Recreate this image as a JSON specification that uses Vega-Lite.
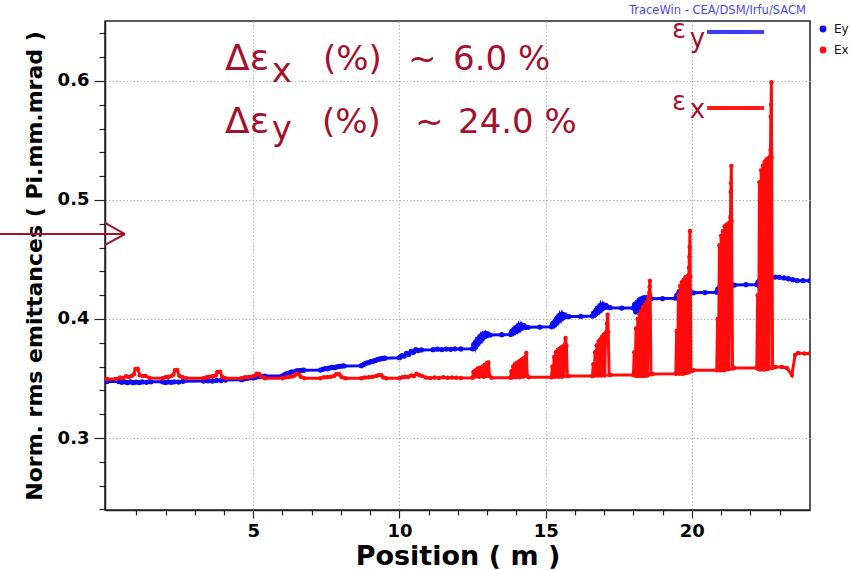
{
  "$schema": "https://vega.github.io/schema/vega-lite/v6.json",
  "width": 705,
  "height": 489,
  "autosize": {"type": "none"},
  "padding": {"left": 105, "top": 21, "right": 43, "bottom": 60},
  "background": "white",
  "config": {
    "view": {"stroke": "#222", "strokeWidth": 1.5},
    "axis": {
      "labelFont": "DejaVu Sans", "labelFontWeight": "bold", "labelColor": "#000",
      "titleFont": "DejaVu Sans", "titleFontWeight": "bold", "titleColor": "#000",
      "domainColor": "#222", "domainWidth": 1.5, "tickColor": "#222", "tickWidth": 1.2,
      "gridColor": "#b5b5b5", "gridDash": [1.5, 2], "gridWidth": 1,
      "labelOverlap": false, "labelBound": false, "labelFlush": false
    }
  },
  "datasets": {
    "ey": [
      {"x":0,"y":0.3475},{"x":0.4,"y":0.3475},{"x":0.5,"y":0.3468},{"x":0.6,"y":0.3472},{"x":0.7,"y":0.3466},{"x":0.8,"y":0.3471},{"x":0.9,"y":0.3465},{"x":1.0,"y":0.347},{"x":1.1,"y":0.3466},{"x":1.2,"y":0.3471},{"x":1.35,"y":0.3468},{"x":1.5,"y":0.3472},
      {"x":1.9,"y":0.3472},{"x":2.0,"y":0.3467},{"x":2.1,"y":0.3471},{"x":2.2,"y":0.3468},{"x":2.3,"y":0.3472},{"x":2.45,"y":0.347},{"x":2.6,"y":0.3476},
      {"x":3.3,"y":0.3478},{"x":3.45,"y":0.3481},{"x":3.6,"y":0.3479},{"x":3.75,"y":0.3484},{"x":3.9,"y":0.3483},{"x":4.05,"y":0.3487},
      {"x":4.6,"y":0.349},{"x":4.7,"y":0.3497},{"x":4.8,"y":0.3502},{"x":4.9,"y":0.3506},{"x":5.0,"y":0.3505},{"x":5.1,"y":0.3512},{"x":5.2,"y":0.3515},{"x":5.3,"y":0.3518},{"x":5.4,"y":0.352},
      {"x":6.0,"y":0.3522},{"x":6.08,"y":0.3532},{"x":6.16,"y":0.3542},{"x":6.24,"y":0.3548},{"x":6.32,"y":0.3556},{"x":6.4,"y":0.3554},{"x":6.48,"y":0.3563},{"x":6.56,"y":0.3566},{"x":6.64,"y":0.3569},{"x":6.72,"y":0.357},
      {"x":7.3,"y":0.3571},{"x":7.38,"y":0.3577},{"x":7.46,"y":0.3583},{"x":7.54,"y":0.3582},{"x":7.62,"y":0.3589},{"x":7.7,"y":0.3593},{"x":7.78,"y":0.3591},{"x":7.86,"y":0.3598},{"x":7.94,"y":0.3602},{"x":8.02,"y":0.3604},{"x":8.1,"y":0.3606},
      {"x":8.7,"y":0.3608},{"x":8.78,"y":0.3618},{"x":8.86,"y":0.3628},{"x":8.94,"y":0.3633},{"x":9.02,"y":0.3642},{"x":9.1,"y":0.3645},{"x":9.18,"y":0.3652},{"x":9.26,"y":0.366},{"x":9.34,"y":0.3664},{"x":9.42,"y":0.3668},{"x":9.5,"y":0.367},
      {"x":10.0,"y":0.3675},{"x":10.08,"y":0.3692},{"x":10.16,"y":0.3688},{"x":10.24,"y":0.371},{"x":10.32,"y":0.3702},{"x":10.4,"y":0.3728},{"x":10.48,"y":0.372},{"x":10.56,"y":0.3742},{"x":10.64,"y":0.3735},{"x":10.75,"y":0.374},
      {"x":11.15,"y":0.3742},{"x":11.3,"y":0.3746},{"x":11.45,"y":0.3743},{"x":11.6,"y":0.3747},{"x":11.75,"y":0.3745},{"x":11.9,"y":0.3749},{"x":12.1,"y":0.3748},{"x":12.5,"y":0.375},
      {"x":12.54,"y":0.3785},{"x":12.58,"y":0.376},{"x":12.62,"y":0.381},{"x":12.66,"y":0.3785},{"x":12.7,"y":0.3835},{"x":12.74,"y":0.381},{"x":12.78,"y":0.3855},{"x":12.82,"y":0.383},{"x":12.86,"y":0.387},{"x":12.9,"y":0.385},{"x":12.94,"y":0.388},{"x":12.98,"y":0.386},{"x":13.02,"y":0.3875},{"x":13.1,"y":0.3865},{"x":13.5,"y":0.3868},{"x":13.8,"y":0.387},
      {"x":13.84,"y":0.3895},{"x":13.88,"y":0.388},{"x":13.92,"y":0.3915},{"x":13.96,"y":0.3895},{"x":14.0,"y":0.393},{"x":14.04,"y":0.3905},{"x":14.08,"y":0.3945},{"x":14.12,"y":0.3915},{"x":14.16,"y":0.395},{"x":14.2,"y":0.3925},{"x":14.26,"y":0.3945},{"x":14.32,"y":0.393},{"x":14.4,"y":0.393},{"x":14.8,"y":0.3932},{"x":15.2,"y":0.3935},
      {"x":15.24,"y":0.396},{"x":15.28,"y":0.3945},{"x":15.32,"y":0.3985},{"x":15.36,"y":0.3965},{"x":15.4,"y":0.401},{"x":15.44,"y":0.3985},{"x":15.48,"y":0.403},{"x":15.52,"y":0.4},{"x":15.56,"y":0.404},{"x":15.6,"y":0.401},{"x":15.66,"y":0.4035},{"x":15.72,"y":0.402},{"x":15.8,"y":0.402},{"x":16.2,"y":0.4022},{"x":16.6,"y":0.4025},
      {"x":16.64,"y":0.405},{"x":16.68,"y":0.4035},{"x":16.72,"y":0.4075},{"x":16.76,"y":0.4055},{"x":16.8,"y":0.4095},{"x":16.84,"y":0.407},{"x":16.88,"y":0.4115},{"x":16.92,"y":0.4085},{"x":16.96,"y":0.412},{"x":17.0,"y":0.4095},{"x":17.06,"y":0.4115},{"x":17.12,"y":0.41},{"x":17.2,"y":0.4095},{"x":17.6,"y":0.4092},{"x":18.0,"y":0.4092},
      {"x":18.04,"y":0.412},{"x":18.08,"y":0.406},{"x":18.12,"y":0.414},{"x":18.16,"y":0.407},{"x":18.2,"y":0.416},{"x":18.24,"y":0.409},{"x":18.28,"y":0.417},{"x":18.32,"y":0.411},{"x":18.36,"y":0.418},{"x":18.4,"y":0.414},{"x":18.46,"y":0.418},{"x":18.52,"y":0.4165},{"x":18.6,"y":0.417},{"x":19.0,"y":0.4172},{"x":19.45,"y":0.4175},
      {"x":19.49,"y":0.42},{"x":19.53,"y":0.418},{"x":19.57,"y":0.423},{"x":19.61,"y":0.419},{"x":19.65,"y":0.425},{"x":19.69,"y":0.42},{"x":19.73,"y":0.4255},{"x":19.77,"y":0.4205},{"x":19.81,"y":0.425},{"x":19.85,"y":0.421},{"x":19.91,"y":0.424},{"x":19.97,"y":0.422},{"x":20.05,"y":0.422},{"x":20.45,"y":0.4222},{"x":20.85,"y":0.4225},
      {"x":20.89,"y":0.425},{"x":20.93,"y":0.4225},{"x":20.97,"y":0.428},{"x":21.01,"y":0.4235},{"x":21.05,"y":0.43},{"x":21.09,"y":0.425},{"x":21.13,"y":0.431},{"x":21.17,"y":0.4265},{"x":21.21,"y":0.4305},{"x":21.25,"y":0.4275},{"x":21.31,"y":0.4295},{"x":21.38,"y":0.4285},{"x":21.45,"y":0.4285},{"x":21.85,"y":0.4288},{"x":22.22,"y":0.429},
      {"x":22.26,"y":0.431},{"x":22.3,"y":0.428},{"x":22.34,"y":0.4335},{"x":22.38,"y":0.429},{"x":22.42,"y":0.436},{"x":22.46,"y":0.4305},{"x":22.5,"y":0.4375},{"x":22.54,"y":0.432},{"x":22.58,"y":0.438},{"x":22.62,"y":0.4335},{"x":22.68,"y":0.4365},{"x":22.74,"y":0.435},{"x":22.85,"y":0.4352},
      {"x":23.0,"y":0.435},{"x":23.15,"y":0.4345},{"x":23.3,"y":0.4338},{"x":23.45,"y":0.433},{"x":23.6,"y":0.4322},{"x":23.8,"y":0.4322},{"x":24.04,"y":0.4322}
    ],
    "ex": [
      {"x":0,"y":0.3495},{"x":0.3,"y":0.3495},{"x":0.45,"y":0.3508},{"x":0.55,"y":0.3504},{"x":0.65,"y":0.3518},{"x":0.75,"y":0.3512},{"x":0.85,"y":0.3524},{"x":0.92,"y":0.3535},{"x":0.97,"y":0.358},{"x":1.05,"y":0.3582},{"x":1.12,"y":0.3528},{"x":1.22,"y":0.352},{"x":1.32,"y":0.3522},{"x":1.45,"y":0.3505},
      {"x":1.9,"y":0.3503},{"x":2.0,"y":0.351},{"x":2.1,"y":0.3514},{"x":2.2,"y":0.352},{"x":2.27,"y":0.3532},{"x":2.32,"y":0.357},{"x":2.4,"y":0.3572},{"x":2.47,"y":0.3522},{"x":2.57,"y":0.3512},{"x":2.7,"y":0.3503},
      {"x":3.3,"y":0.3502},{"x":3.4,"y":0.351},{"x":3.5,"y":0.3514},{"x":3.62,"y":0.3518},{"x":3.72,"y":0.3525},{"x":3.77,"y":0.3555},{"x":3.87,"y":0.3556},{"x":3.94,"y":0.3513},{"x":4.05,"y":0.3503},
      {"x":4.6,"y":0.3503},{"x":4.72,"y":0.351},{"x":4.85,"y":0.3512},{"x":4.97,"y":0.3516},{"x":5.07,"y":0.3525},{"x":5.12,"y":0.354},{"x":5.2,"y":0.3537},{"x":5.28,"y":0.3515},{"x":5.4,"y":0.3503},
      {"x":6.0,"y":0.3503},{"x":6.1,"y":0.351},{"x":6.22,"y":0.3512},{"x":6.34,"y":0.3516},{"x":6.42,"y":0.3525},{"x":6.47,"y":0.354},{"x":6.55,"y":0.3541},{"x":6.62,"y":0.3515},{"x":6.75,"y":0.3503},
      {"x":7.3,"y":0.3503},{"x":7.42,"y":0.351},{"x":7.54,"y":0.3512},{"x":7.66,"y":0.3515},{"x":7.77,"y":0.3522},{"x":7.84,"y":0.3535},{"x":7.94,"y":0.3535},{"x":8.02,"y":0.3512},{"x":8.15,"y":0.3503},
      {"x":8.7,"y":0.3503},{"x":8.82,"y":0.3509},{"x":8.95,"y":0.3511},{"x":9.08,"y":0.3514},{"x":9.2,"y":0.352},{"x":9.28,"y":0.353},{"x":9.38,"y":0.3528},{"x":9.45,"y":0.3508},{"x":9.55,"y":0.3503},
      {"x":10.0,"y":0.3503},{"x":10.1,"y":0.351},{"x":10.2,"y":0.3515},{"x":10.3,"y":0.3512},{"x":10.4,"y":0.3525},{"x":10.5,"y":0.352},{"x":10.58,"y":0.354},{"x":10.68,"y":0.3528},{"x":10.78,"y":0.352},{"x":10.9,"y":0.3508},{"x":11.05,"y":0.3504},
      {"x":11.2,"y":0.3508},{"x":11.35,"y":0.3505},{"x":11.5,"y":0.351},{"x":11.65,"y":0.3506},{"x":11.8,"y":0.3509},{"x":11.95,"y":0.3506},{"x":12.1,"y":0.3505},{"x":12.5,"y":0.3506},
      {"x":12.53,"y":0.3555},{"x":12.56,"y":0.3515},{"x":12.6,"y":0.357},{"x":12.64,"y":0.352},{"x":12.68,"y":0.3585},{"x":12.72,"y":0.3515},{"x":12.76,"y":0.359},{"x":12.8,"y":0.352},{"x":12.84,"y":0.36},{"x":12.88,"y":0.3515},{"x":12.92,"y":0.3615},{"x":12.96,"y":0.352},{"x":13.0,"y":0.363},{"x":13.04,"y":0.3635},{"x":13.08,"y":0.352},{"x":13.15,"y":0.3506},
      {"x":13.8,"y":0.3506},{"x":13.83,"y":0.356},{"x":13.86,"y":0.351},{"x":13.89,"y":0.36},{"x":13.92,"y":0.3515},{"x":13.95,"y":0.362},{"x":13.98,"y":0.351},{"x":14.01,"y":0.363},{"x":14.04,"y":0.352},{"x":14.07,"y":0.364},{"x":14.1,"y":0.351},{"x":14.13,"y":0.365},{"x":14.16,"y":0.352},{"x":14.19,"y":0.366},{"x":14.22,"y":0.3515},{"x":14.25,"y":0.367},{"x":14.28,"y":0.352},{"x":14.31,"y":0.368},{"x":14.34,"y":0.3715},{"x":14.37,"y":0.352},{"x":14.42,"y":0.351},
      {"x":15.2,"y":0.351},{"x":15.23,"y":0.36},{"x":15.26,"y":0.352},{"x":15.29,"y":0.368},{"x":15.32,"y":0.3515},{"x":15.35,"y":0.372},{"x":15.38,"y":0.352},{"x":15.41,"y":0.374},{"x":15.44,"y":0.3515},{"x":15.47,"y":0.375},{"x":15.5,"y":0.352},{"x":15.53,"y":0.376},{"x":15.56,"y":0.3515},{"x":15.59,"y":0.377},{"x":15.62,"y":0.352},{"x":15.65,"y":0.378},{"x":15.68,"y":0.384},{"x":15.71,"y":0.3775},{"x":15.74,"y":0.352},{"x":15.8,"y":0.352},
      {"x":16.6,"y":0.352},{"x":16.63,"y":0.362},{"x":16.66,"y":0.3525},{"x":16.69,"y":0.372},{"x":16.72,"y":0.353},{"x":16.75,"y":0.378},{"x":16.78,"y":0.3525},{"x":16.81,"y":0.381},{"x":16.84,"y":0.353},{"x":16.87,"y":0.383},{"x":16.9,"y":0.3525},{"x":16.93,"y":0.385},{"x":16.96,"y":0.353},{"x":16.99,"y":0.387},{"x":17.02,"y":0.3525},{"x":17.05,"y":0.388},{"x":17.08,"y":0.389},{"x":17.1,"y":0.396},{"x":17.12,"y":0.4035},{"x":17.14,"y":0.389},{"x":17.17,"y":0.353},{"x":17.22,"y":0.353},
      {"x":18.0,"y":0.353},{"x":18.03,"y":0.372},{"x":18.06,"y":0.3525},{"x":18.09,"y":0.392},{"x":18.12,"y":0.352},{"x":18.15,"y":0.4},{"x":18.18,"y":0.3525},{"x":18.21,"y":0.404},{"x":18.24,"y":0.352},{"x":18.27,"y":0.407},{"x":18.3,"y":0.3525},{"x":18.33,"y":0.41},{"x":18.36,"y":0.352},{"x":18.39,"y":0.412},{"x":18.42,"y":0.3525},{"x":18.45,"y":0.414},{"x":18.48,"y":0.3525},{"x":18.51,"y":0.417},{"x":18.535,"y":0.4185},{"x":18.545,"y":0.422},{"x":18.555,"y":0.427},{"x":18.565,"y":0.432},{"x":18.575,"y":0.42},{"x":18.6,"y":0.3535},{"x":18.65,"y":0.3538},
      {"x":19.45,"y":0.354},{"x":19.48,"y":0.39},{"x":19.51,"y":0.3545},{"x":19.54,"y":0.42},{"x":19.57,"y":0.354},{"x":19.6,"y":0.428},{"x":19.63,"y":0.3545},{"x":19.66,"y":0.431},{"x":19.69,"y":0.354},{"x":19.72,"y":0.433},{"x":19.75,"y":0.3545},{"x":19.78,"y":0.435},{"x":19.81,"y":0.355},{"x":19.84,"y":0.436},{"x":19.87,"y":0.355},{"x":19.895,"y":0.437},{"x":19.905,"y":0.443},{"x":19.915,"y":0.452},{"x":19.925,"y":0.4605},{"x":19.935,"y":0.474},{"x":19.945,"y":0.436},{"x":19.97,"y":0.356},{"x":20.0,"y":0.3565},{"x":20.05,"y":0.357},
      {"x":20.85,"y":0.357},{"x":20.88,"y":0.4},{"x":20.91,"y":0.3575},{"x":20.94,"y":0.462},{"x":20.97,"y":0.357},{"x":21.0,"y":0.47},{"x":21.03,"y":0.3575},{"x":21.06,"y":0.474},{"x":21.09,"y":0.357},{"x":21.12,"y":0.478},{"x":21.15,"y":0.3575},{"x":21.18,"y":0.479},{"x":21.21,"y":0.358},{"x":21.24,"y":0.48},{"x":21.27,"y":0.358},{"x":21.3,"y":0.481},{"x":21.32,"y":0.4857},{"x":21.33,"y":0.5067},{"x":21.34,"y":0.514},{"x":21.35,"y":0.5285},{"x":21.36,"y":0.482},{"x":21.39,"y":0.3585},{"x":21.42,"y":0.3588},{"x":21.45,"y":0.3588},
      {"x":22.22,"y":0.3588},{"x":22.25,"y":0.42},{"x":22.28,"y":0.358},{"x":22.31,"y":0.515},{"x":22.34,"y":0.3575},{"x":22.37,"y":0.525},{"x":22.4,"y":0.358},{"x":22.43,"y":0.529},{"x":22.46,"y":0.3575},{"x":22.49,"y":0.532},{"x":22.52,"y":0.358},{"x":22.55,"y":0.534},{"x":22.58,"y":0.358},{"x":22.61,"y":0.535},{"x":22.64,"y":0.3585},{"x":22.67,"y":0.536},{"x":22.69,"y":0.542},{"x":22.7,"y":0.57},{"x":22.71,"y":0.58},{"x":22.72,"y":0.599},{"x":22.73,"y":0.536},{"x":22.76,"y":0.359},{"x":22.8,"y":0.3597},{"x":22.85,"y":0.3597},
      {"x":23.08,"y":0.3597},{"x":23.25,"y":0.3588},{"x":23.42,"y":0.353},{"x":23.53,"y":0.3697},{"x":23.63,"y":0.3714},{"x":23.85,"y":0.371},{"x":24.04,"y":0.371}
    ]
  },
  "layer": [
    {
      "data": {"name": "ey"},
      "mark": {"type": "line", "strokeWidth": 3, "clip": true, "point": {"filled": true, "size": 28}},
      "encoding": {
        "x": {
          "field": "x", "type": "quantitative",
          "scale": {"domain": [-0.07, 24.04], "nice": false, "zero": false},
          "axis": {
            "title": "Position ( m )", "titleFontSize": 27, "titlePadding": 3,
            "values": [1,2,3,4,5,6,7,8,9,10,11,12,13,14,15,16,17,18,19,20,21,22,23],
            "tickCount": 200,
            "labelExpr": "datum.value % 5 === 0 ? format(datum.value, 'd') : ''",
            "labelOverlap": false, "labelBound": false, "labelFlush": false,
            "labelFontSize": 18, "labelPadding": 4, "tickSize": 8,
            "tickDash": {"condition": {"test": "datum.value % 5 === 0", "value": [20, 1]}, "value": [5, 30]},
            "gridOpacity": {"condition": {"test": "datum.value % 5 === 0", "value": 1}, "value": 0}
          }
        },
        "y": {
          "field": "y", "type": "quantitative",
          "scale": {"domain": [0.2395, 0.6504], "nice": false, "zero": false},
          "axis": {
            "title": "Norm. rms emittances ( Pi.mm.mrad )", "titleFontSize": 22, "titlePadding": 11,
            "values": [0.24,0.26,0.28,0.3,0.32,0.34,0.36,0.38,0.4,0.42,0.44,0.46,0.48,0.5,0.52,0.54,0.56,0.58,0.6,0.62,0.64],
            "tickCount": 200,
            "labelExpr": "abs(datum.value*10 - round(datum.value*10)) < 0.01 ? format(datum.value, '.1f') : ''",
            "labelOverlap": false, "labelBound": false, "labelFlush": false,
            "labelFontSize": 18, "labelPadding": 5, "tickSize": 11,
            "tickDash": {"condition": {"test": "abs(datum.value*10 - round(datum.value*10)) < 0.01", "value": [20, 1]}, "value": [6, 30]},
            "gridOpacity": {"condition": {"test": "abs(datum.value*10 - round(datum.value*10)) < 0.01", "value": 1}, "value": 0}
          }
        },
        "color": {
          "datum": "Ey", "type": "nominal",
          "scale": {"domain": ["Ey", "Ex"], "range": ["#0b0bf5", "#ff0b0b"]},
          "legend": {
            "orient": "none", "legendX": 712, "legendY": 2, "title": null, "padding": 0,
            "symbolType": "circle", "symbolSize": 28, "labelFont": "DejaVu Sans", "labelFontSize": 12,
            "labelColor": "#111", "labelOffset": 5, "rowPadding": 9,
            "encode": {"symbols": {"update": {"fill": {"scale": "color", "field": "value"}, "stroke": {"value": "transparent"}}}}
          }
        }
      }
    },
    {
      "data": {"name": "ex"},
      "mark": {"type": "line", "strokeWidth": 3, "clip": true, "point": {"filled": true, "size": 20}},
      "encoding": {
        "x": {"field": "x", "type": "quantitative", "scale": {"domain": [-0.07, 24.04], "nice": false, "zero": false}},
        "y": {"field": "y", "type": "quantitative", "scale": {"domain": [0.2395, 0.6504], "nice": false, "zero": false}},
        "color": {"datum": "Ex", "type": "nominal"}
      }
    },
    {
      "data": {"values": [{}]},
      "mark": {"type": "rule", "color": "#A3112E", "strokeWidth": 2, "clip": false},
      "encoding": {
        "x": {"datum": -3.66, "type": "quantitative", "scale": {"domain": [-0.07, 24.04], "nice": false, "zero": false}},
        "x2": {"datum": 0.614},
        "y": {"datum": 0.4714, "type": "quantitative", "scale": {"domain": [0.2395, 0.6504], "nice": false, "zero": false}}
      }
    },
    {
      "data": {"values": [{}]},
      "mark": {"type": "rule", "color": "#A3112E", "strokeWidth": 2, "clip": false},
      "encoding": {
        "x": {"datum": -0.07, "type": "quantitative", "scale": {"domain": [-0.07, 24.04], "nice": false, "zero": false}},
        "x2": {"datum": 0.614},
        "y": {"datum": 0.4807, "type": "quantitative", "scale": {"domain": [0.2395, 0.6504], "nice": false, "zero": false}},
        "y2": {"datum": 0.4714}
      }
    },
    {
      "data": {"values": [{}]},
      "mark": {"type": "rule", "color": "#A3112E", "strokeWidth": 2, "clip": false},
      "encoding": {
        "x": {"datum": -0.07, "type": "quantitative", "scale": {"domain": [-0.07, 24.04], "nice": false, "zero": false}},
        "x2": {"datum": 0.614},
        "y": {"datum": 0.4622, "type": "quantitative", "scale": {"domain": [0.2395, 0.6504], "nice": false, "zero": false}},
        "y2": {"datum": 0.4714}
      }
    },
    {
      "data": {"values": [{}]},
      "mark": {"type": "rule", "color": "#3d3df2", "strokeWidth": 4},
      "encoding": {
        "x": {"datum": 20.52, "type": "quantitative", "scale": {"domain": [-0.07, 24.04], "nice": false, "zero": false}},
        "x2": {"datum": 22.47},
        "y": {"datum": 0.6412, "type": "quantitative", "scale": {"domain": [0.2395, 0.6504], "nice": false, "zero": false}}
      }
    },
    {
      "data": {"values": [{}]},
      "mark": {"type": "rule", "color": "#ff1a1a", "strokeWidth": 4},
      "encoding": {
        "x": {"datum": 20.52, "type": "quantitative", "scale": {"domain": [-0.07, 24.04], "nice": false, "zero": false}},
        "x2": {"datum": 22.47},
        "y": {"datum": 0.5773, "type": "quantitative", "scale": {"domain": [0.2395, 0.6504], "nice": false, "zero": false}}
      }
    },
    {
      "data": {"values": [
        {"t": "Δε", "px": 4.034, "py": 0.6092, "s": 36},
        {"t": "x", "px": 5.63, "py": 0.5991, "s": 34},
        {"t": "(%)", "px": 7.385, "py": 0.6092, "s": 34},
        {"t": "~", "px": 10.293, "py": 0.6092, "s": 34},
        {"t": "6.0 %", "px": 11.831, "py": 0.6092, "s": 34},
        {"t": "Δε", "px": 4.034, "py": 0.5563, "s": 36},
        {"t": "y", "px": 5.63, "py": 0.5504, "s": 34},
        {"t": "(%)", "px": 7.351, "py": 0.5563, "s": 34},
        {"t": "~", "px": 10.532, "py": 0.5563, "s": 34},
        {"t": "24.0 %", "px": 12.003, "py": 0.5563, "s": 34},
        {"t": "ε", "px": 19.32, "py": 0.6361, "s": 26},
        {"t": "y", "px": 19.93, "py": 0.6286, "s": 26},
        {"t": "ε", "px": 19.32, "py": 0.5756, "s": 26},
        {"t": "x", "px": 19.93, "py": 0.5689, "s": 26}
      ]},
      "mark": {"type": "text", "align": "left", "baseline": "alphabetic", "font": "DejaVu Sans", "color": "#A3112E", "clip": false},
      "encoding": {
        "x": {"field": "px", "type": "quantitative", "scale": {"domain": [-0.07, 24.04], "nice": false, "zero": false}},
        "y": {"field": "py", "type": "quantitative", "scale": {"domain": [0.2395, 0.6504], "nice": false, "zero": false}},
        "text": {"field": "t"},
        "size": {"field": "s", "type": "quantitative", "scale": null}
      }
    },
    {
      "data": {"values": [{}]},
      "mark": {"type": "text", "text": "TraceWin - CEA/DSM/Irfu/SACM", "align": "right", "baseline": "alphabetic", "font": "DejaVu Sans", "fontSize": 11.5, "color": "#4a4af0", "clip": false},
      "encoding": {
        "x": {"datum": 23.9, "type": "quantitative", "scale": {"domain": [-0.07, 24.04], "nice": false, "zero": false}},
        "y": {"datum": 0.6563, "type": "quantitative", "scale": {"domain": [0.2395, 0.6504], "nice": false, "zero": false}}
      }
    }
  ]
}
